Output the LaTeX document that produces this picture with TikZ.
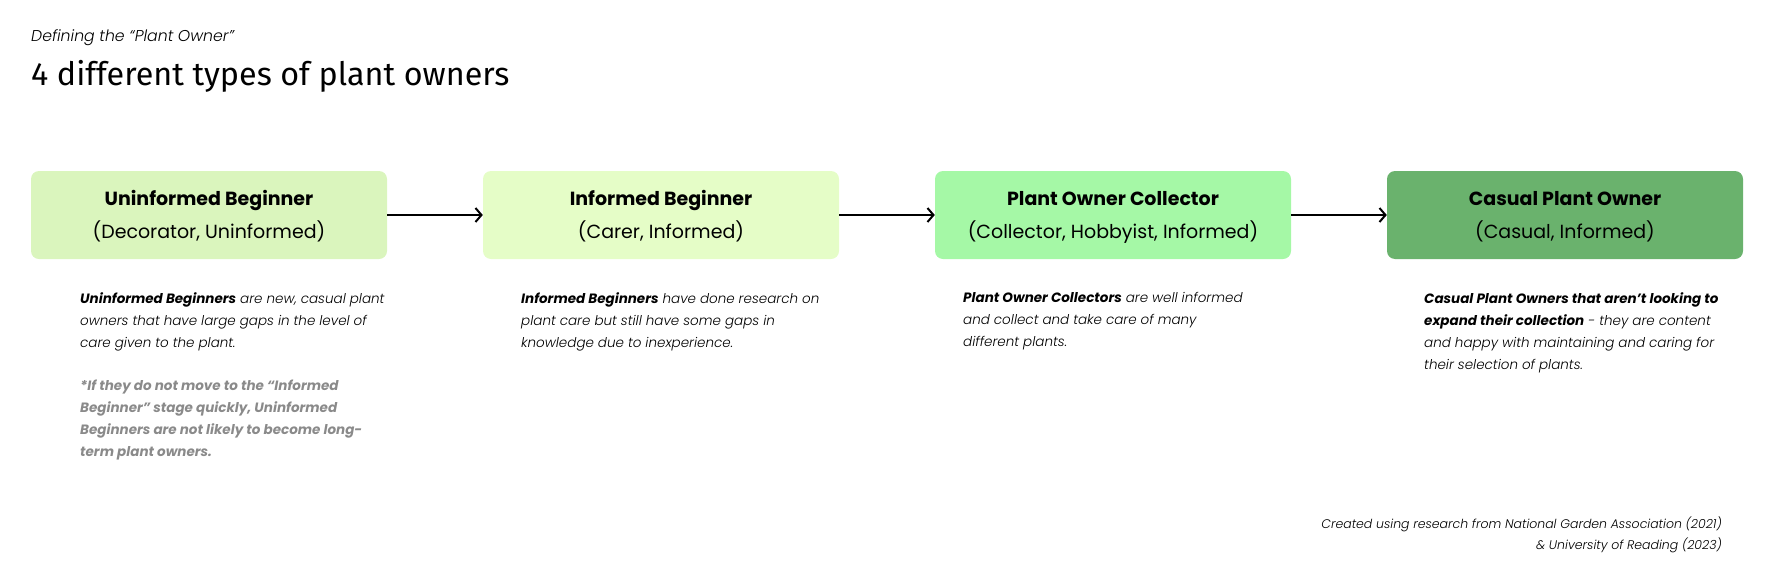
\documentclass[tikz,border=0pt]{standalone}
\usepackage{fontspec}
\usetikzlibrary{arrows.meta}
\setmainfont{Poppins}
\newfontfamily\headfont{Fira Sans}
\IfFontExistsTF{Poppins Light Italic}{\newfontfamily\lightit{Poppins Light Italic}}{\newcommand\lightit{\itshape}}
\newcommand\strongit[1]{{\normalfont\bfseries\itshape #1}}
\definecolor{ubox}{HTML}{DAF5BD}
\definecolor{ibox}{HTML}{E5FDC7}
\definecolor{cbox}{HTML}{A5F8A6}
\definecolor{pbox}{HTML}{6AB26D}
\definecolor{notegray}{HTML}{8A8A8A}
\begin{document}
\begin{tikzpicture}[x=1pt,y=-1pt,
  ownerbox/.style={rounded corners=8pt,minimum width=356pt,minimum height=88pt,align=center,inner sep=0pt,font=\fontsize{19}{33}\selectfont},
  desc/.style={anchor=north west,align=left,inner sep=0pt,font=\lightit\fontsize{13.5}{22}\selectfont},
  flow/.style={line width=2pt,-{Straight Barb[length=6pt,width=14pt]}}]
\useasboundingbox (0,0) rectangle (1774,576);
%heading
\node[anchor=base west,inner sep=0pt,font=\lightit\fontsize{15.7}{18}\selectfont] (kicker) at (31,41) {Defining the “Plant Owner”};
\node[anchor=base west,inner sep=0pt,font=\headfont\fontsize{32.3}{36}\selectfont] (title) at (31,85) {4 different types of plant owners};
%the four owners
\node[ownerbox,fill=ubox] (uninf) at (209,215) {\textbf{Uninformed Beginner}\strut\\(Decorator, Uninformed)\strut};
\node[ownerbox,fill=ibox] (inf) at (661,215) {\textbf{Informed Beginner}\strut\\(Carer, Informed)\strut};
\node[ownerbox,fill=cbox] (coll) at (1113,215) {\textbf{Plant Owner Collector}\strut\\(Collector, Hobbyist, Informed)\strut};
\node[ownerbox,fill=pbox] (casual) at (1565,215) {\textbf{Casual Plant Owner}\strut\\(Casual, Informed)\strut};
\draw[flow] (uninf) -- (inf);
\draw[flow] (inf) -- (coll);
\draw[flow] (coll) -- (casual);
%descriptions
\node[desc] (uninfdesc) at (80,292) {\strongit{Uninformed Beginners} are new, casual plant\\owners that have large gaps in the level of\\care given to the plant.};
\node[desc,font=\normalfont\bfseries\itshape\fontsize{13.5}{22}\selectfont,text=notegray] (uninfnote) at (80,380) {*If they do not move to the “Informed\\Beginner” stage quickly, Uninformed\\Beginners are not likely to become long-\\term plant owners.};
\node[desc] (infdesc) at (521,292) {\strongit{Informed Beginners} have done research on\\plant care but still have some gaps in\\knowledge due to inexperience.};
\node[desc] (colldesc) at (963,292) {\strongit{Plant Owner Collectors} are well informed\\and collect and take care of many\\different plants.};
\node[desc] (casualdesc) at (1424,292) {\strongit{Casual Plant Owners that aren’t looking to}\\\strongit{expand their collection} - they are content\\and happy with maintaining and caring for\\their selection of plants.};
%sources
\node[anchor=north east,align=right,inner sep=0pt,font=\lightit\fontsize{12.5}{21}\selectfont] (sources) at (1722,517) {Created using research from National Garden Association (2021)\\\& University of Reading (2023)};
\end{tikzpicture}
\end{document}
